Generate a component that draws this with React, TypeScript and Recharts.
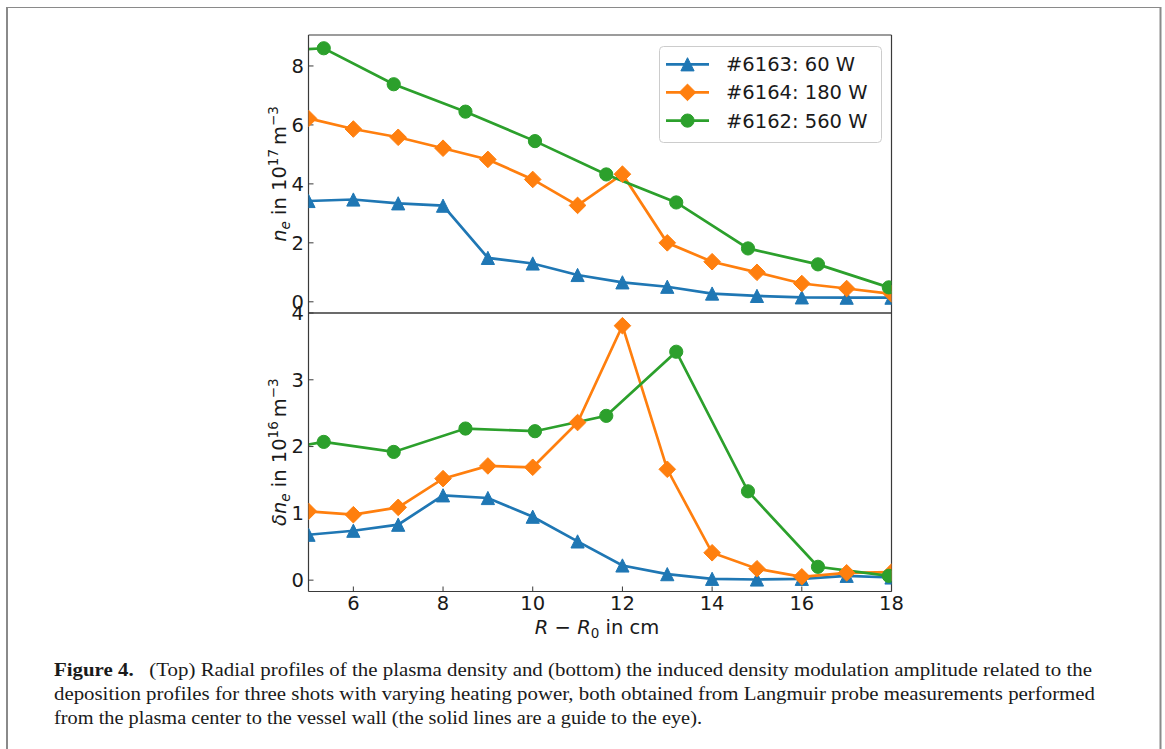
import React from 'react';
import { LineChart, Line, XAxis, YAxis, Legend } from 'recharts';

// ---- data ----
const rAll = [5, 6, 7, 8, 9, 10, 11, 12, 13, 14, 15, 16, 17, 18];
const r6162 = [3.77, 5.34, 6.9, 8.5, 10.05, 11.64, 13.2, 14.8, 16.36, 17.94];

const ne6163 = [3.42, 3.47, 3.34, 3.26, 1.49, 1.3, 0.91, 0.66, 0.51, 0.28, 0.2, 0.15, 0.14, 0.14];
const ne6164 = [6.22, 5.86, 5.58, 5.21, 4.83, 4.15, 3.27, 4.33, 2.0, 1.36, 1.0, 0.62, 0.45, 0.27];
const ne6162 = [8.46, 8.6, 7.38, 6.45, 5.45, 4.32, 3.37, 1.81, 1.27, 0.49];

const dne6163 = [0.68, 0.74, 0.83, 1.27, 1.23, 0.95, 0.58, 0.22, 0.09, 0.02, 0.01, 0.02, 0.065, 0.04];
const dne6164 = [1.03, 0.98, 1.09, 1.52, 1.71, 1.69, 2.36, 3.81, 1.66, 0.41, 0.17, 0.05, 0.11, 0.12];
const dne6162 = [1.88, 2.07, 1.92, 2.27, 2.23, 2.46, 3.42, 1.33, 0.2, 0.065];

const seriesNames = ['#6163: 60 W', '#6164: 180 W', '#6162: 560 W'];
const xTicks = [6, 8, 10, 12, 14, 16, 18];
const neTicks = [0, 2, 4, 6, 8];
const dneTicks = [0, 1, 2, 3, 4];
const xDomain: [number, number] = [5, 18];
const neDomain: [number, number] = [-0.38, 9.05];
const dneDomain: [number, number] = [-0.17, 4.0];

const captionLines = [
  '(Top) Radial profiles of the plasma density and (bottom) the induced density modulation amplitude related to the',
  'deposition profiles for three shots with varying heating power, both obtained from Langmuir probe measurements performed',
  'from the plasma center to the vessel wall (the solid lines are a guide to the eye).',
];

// ---- style ----
const BLUE = '#1f77b4';
const ORANGE = '#ff7f0e';
const GREEN = '#2ca02c';
const INK = '#1a1a1a';
const AX = '#3a3a3a';
const FONT = 'DejaVu Sans, sans-serif';
const FS = 19.5;
const LW = 2.7;

const mk = (xs: number[], ys: number[]) => xs.map((x, i) => ({ x, y: ys[i] }));

const triPath = (cx: number, cy: number, h: number) =>
  `M${cx},${cy - h}L${cx - h},${cy + h}L${cx + h},${cy + h}Z`;
const diaPath = (cx: number, cy: number, h: number) =>
  `M${cx},${cy - h}L${cx + h},${cy}L${cx},${cy + h}L${cx - h},${cy}Z`;

const TriDot = (p: any) => {
  if (p.cx == null || p.cy == null) return <g key={`t${p.index}`} />;
  return <path key={`t${p.index}`} d={triPath(p.cx, p.cy, 6.6)} fill={BLUE} stroke={BLUE} strokeWidth={1} />;
};
const DiaDot = (p: any) => {
  if (p.cx == null || p.cy == null) return <g key={`d${p.index}`} />;
  return <path key={`d${p.index}`} d={diaPath(p.cx, p.cy, 8.3)} fill={ORANGE} stroke={ORANGE} strokeWidth={1} />;
};
const CircDot = (p: any) => {
  if (p.cx == null || p.cy == null) return <g key={`c${p.index}`} />;
  return <circle key={`c${p.index}`} cx={p.cx} cy={p.cy} r={6.6} fill={GREEN} stroke={GREEN} strokeWidth={1} />;
};

const W = 1165;
const PLOT_L = 308.5;
const PLOT_R = 891.5;
const YAXIS_W = 60;
const mLeft = PLOT_L - YAXIS_W;
const mRight = W - PLOT_R - 1;

const tickStyle = { fontSize: FS, fill: INK, fontFamily: FONT };

const LegendBox = () => {
  const colors = [BLUE, ORANGE, GREEN];
  const rows = [18.3, 46.4, 74.6];
  return (
    <svg width={223} height={97} style={{ display: 'block' }}>
      <rect x={0.5} y={0.5} width={222} height={96} rx={4} ry={4} fill="#ffffff" fillOpacity={0.85} stroke="#cccccc" strokeWidth={1} />
      {seriesNames.map((n, i) => {
        const cy = rows[i];
        return (
          <g key={n}>
            <line x1={7} x2={50} y1={cy} y2={cy} stroke={colors[i]} strokeWidth={LW} />
            {i === 0 && <path d={triPath(28.5, cy, 6.6)} fill={BLUE} stroke={BLUE} />}
            {i === 1 && <path d={diaPath(28.5, cy, 8.3)} fill={ORANGE} stroke={ORANGE} />}
            {i === 2 && <circle cx={28.5} cy={cy} r={6.6} fill={GREEN} stroke={GREEN} />}
            <text x={67} y={cy + 7} fontSize={FS} fontFamily={FONT} fill={INK}>{n}</text>
          </g>
        );
      })}
    </svg>
  );
};

const NeLabel = (props: any) => {
  const vb = props.viewBox || { x: mLeft, y: 35, width: YAXIS_W, height: 278 };
  const cx = vb.x + vb.width - 23;
  const cy = vb.y + vb.height / 2;
  return (
    <text x={cx} y={cy} transform={`rotate(-90, ${cx}, ${cy})`} textAnchor="middle" fontSize={FS} fontFamily={FONT} fill={INK}>
      <tspan fontStyle="italic">n</tspan>
      <tspan fontStyle="italic" fontSize={13.5} dy={4}>e</tspan>
      <tspan dy={-4}> in 10</tspan>
      <tspan fontSize={13.5} dy={-8}>17</tspan>
      <tspan dy={8}>{'\u2009m'}</tspan>
      <tspan fontSize={13.5} dy={-8}>{'\u22123'}</tspan>
    </text>
  );
};

const DneLabel = (props: any) => {
  const vb = props.viewBox || { x: mLeft, y: 18, width: YAXIS_W, height: 278 };
  const cx = vb.x + vb.width - 23;
  const cy = vb.y + vb.height / 2;
  return (
    <text x={cx} y={cy} transform={`rotate(-90, ${cx}, ${cy})`} textAnchor="middle" fontSize={FS} fontFamily={FONT} fill={INK}>
      <tspan fontStyle="italic">{'\u03b4n'}</tspan>
      <tspan fontStyle="italic" fontSize={13.5} dy={4}>e</tspan>
      <tspan dy={-4}> in 10</tspan>
      <tspan fontSize={13.5} dy={-8}>16</tspan>
      <tspan dy={8}>{'\u2009m'}</tspan>
      <tspan fontSize={13.5} dy={-8}>{'\u22123'}</tspan>
    </text>
  );
};

const XLabel = (props: any) => {
  const vb = props.viewBox || { x: PLOT_L, y: 296.5, width: 583, height: 50 };
  const cx = vb.x + vb.width / 2 - 3;
  const y = vb.y + 42.5;
  return (
    <text x={cx} y={y} textAnchor="middle" fontSize={FS} fontFamily={FONT} fill={INK}>
      <tspan fontStyle="italic">R</tspan>
      <tspan>{' \u2212 '}</tspan>
      <tspan fontStyle="italic">R</tspan>
      <tspan fontSize={13.5} dy={4}>0</tspan>
      <tspan dy={-4}> in cm</tspan>
    </text>
  );
};

function axes(yDomain: [number, number], yTicks: number[], yLabel: any, bottomLabels: boolean) {
  return [
    <XAxis
      key="xb"
      xAxisId="b"
      type="number"
      dataKey="x"
      domain={xDomain}
      ticks={xTicks}
      allowDataOverflow
      orientation="bottom"
      height={bottomLabels ? 50 : 1}
      tick={bottomLabels ? tickStyle : false}
      tickSize={-5}
      tickMargin={10}
      axisLine={{ stroke: AX, strokeWidth: 1.2 }}
      tickLine={{ stroke: AX, strokeWidth: 1 }}
      label={bottomLabels ? { content: XLabel } : undefined}
    />,
    <XAxis
      key="xt"
      xAxisId="t"
      type="number"
      dataKey="x"
      domain={xDomain}
      ticks={xTicks}
      allowDataOverflow
      orientation="top"
      height={1}
      tick={false}
      tickSize={-5}
      axisLine={{ stroke: AX, strokeWidth: 1.2 }}
      tickLine={{ stroke: AX, strokeWidth: 1 }}
    />,
    <YAxis
      key="yl"
      yAxisId="l"
      type="number"
      domain={yDomain}
      ticks={yTicks}
      allowDataOverflow
      orientation="left"
      width={YAXIS_W}
      tick={tickStyle}
      tickSize={-5}
      tickMargin={9.5}
      axisLine={{ stroke: AX, strokeWidth: 1.2 }}
      tickLine={{ stroke: AX, strokeWidth: 1 }}
      label={{ content: yLabel }}
    />,
    <YAxis
      key="yr"
      yAxisId="r"
      type="number"
      domain={yDomain}
      ticks={yTicks}
      allowDataOverflow
      orientation="right"
      width={1}
      tick={false}
      tickSize={-5}
      axisLine={{ stroke: AX, strokeWidth: 1.2 }}
      tickLine={{ stroke: AX, strokeWidth: 1 }}
    />,
  ];
}

function lines(a: number[], b: number[], c: number[]) {
  return [
    <Line key="s1" xAxisId="b" yAxisId="l" data={mk(rAll, a)} dataKey="y" name={seriesNames[0]} stroke={BLUE} strokeWidth={LW} dot={TriDot} isAnimationActive={false} activeDot={false} />,
    <Line key="s2" xAxisId="b" yAxisId="l" data={mk(rAll, b)} dataKey="y" name={seriesNames[1]} stroke={ORANGE} strokeWidth={LW} dot={DiaDot} isAnimationActive={false} activeDot={false} />,
    <Line key="s3" xAxisId="b" yAxisId="l" data={mk(r6162, c)} dataKey="y" name={seriesNames[2]} stroke={GREEN} strokeWidth={LW} dot={CircDot} isAnimationActive={false} activeDot={false} />,
  ];
}

export default function App() {
  const topH = 330;
  const botTop = 295;
  const botH = 360;
  return (
    <div style={{ position: 'absolute', left: 0, top: 0, width: W, height: 749, background: '#ffffff', overflow: 'hidden' }}>
      <svg width={W} height={749} style={{ position: 'absolute', left: 0, top: 0 }}>
        <line x1={7} y1={7.5} x2={1161} y2={7.5} stroke="#8a8a8a" strokeWidth={1.2} />
        <line x1={7} y1={7} x2={7} y2={749} stroke="#8a8a8a" strokeWidth={2} />
        <line x1={1160.5} y1={7} x2={1160.5} y2={749} stroke="#8a8a8a" strokeWidth={2} />
        <g fontFamily="Liberation Serif, serif" fontSize={19} fill={INK}>
          <text x={54} y={676} textLength={1038} lengthAdjust="spacingAndGlyphs">
            <tspan fontWeight="bold">Figure 4.</tspan>
            <tspan>{'\u2002 ' + captionLines[0]}</tspan>
          </text>
          <text x={54} y={700} textLength={1041} lengthAdjust="spacingAndGlyphs">{captionLines[1]}</text>
          <text x={54} y={724} textLength={648} lengthAdjust="spacingAndGlyphs">{captionLines[2]}</text>
        </g>
      </svg>

      <div style={{ position: 'absolute', left: 0, top: 0 }}>
        <LineChart width={W} height={topH} margin={{ top: 34, right: mRight, bottom: topH - 313 - 1, left: mLeft }}>
          {axes(neDomain, neTicks, NeLabel, false)}
          {lines(ne6163, ne6164, ne6162)}
          <Legend
            layout="vertical"
            align="center"
            verticalAlign="middle"
            content={LegendBox}
            wrapperStyle={{ left: 659, top: 46, width: 223, height: 97 }}
          />
        </LineChart>
      </div>

      <div style={{ position: 'absolute', left: 0, top: botTop }}>
        <LineChart width={W} height={botH} margin={{ top: 313 - botTop - 1, right: mRight, bottom: botH - (591.5 - botTop) - 50, left: mLeft }}>
          {axes(dneDomain, dneTicks, DneLabel, true)}
          {lines(dne6163, dne6164, dne6162)}
        </LineChart>
      </div>
    </div>
  );
}
